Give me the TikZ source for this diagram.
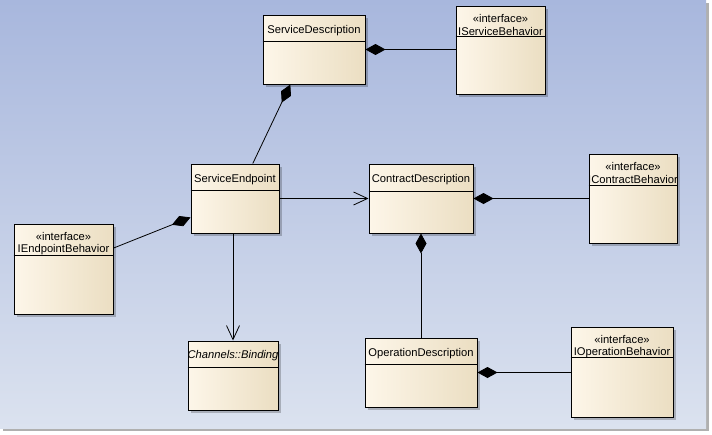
\documentclass[tikz,border=0pt]{standalone}
\usepackage{fontspec}
\setmainfont{Liberation Sans}
\usepackage{tikz}
\usetikzlibrary{arrows.meta,shadows,calc}
\definecolor{BgTop} {RGB}{168, 183, 221}
\definecolor{BgBot} {RGB}{219, 226, 239}
\definecolor{BoxL}  {RGB}{253, 246, 233}
\definecolor{BoxR}  {RGB}{235, 222, 194}
\definecolor{FrameG}{RGB}{176, 176, 176}
\tikzset{
  classbox/.style={draw,line width=1pt,left color=BoxL,right color=BoxR,inner sep=0pt,
    drop shadow={shadow xshift=3pt,shadow yshift=-3pt,fill=black,opacity=0.22}},
  cname/.style={font=\fontsize{11.2}{13}\selectfont,inner sep=0pt},
  comp/.style={line width=0.8pt,arrows={Diamond[length=20pt,width=11pt]-}},
  dep/.style={line width=0.8pt,arrows={-Straight Barb[length=14pt,width=13pt]}}
}

\begin{document}
\begin{tikzpicture}[x=1pt,y=-1pt]
  \useasboundingbox (0,0) rectangle (712,434);
  \fill[white] (0,0) rectangle (712,434);
  \fill[FrameG] (3,3) rectangle (709,431);
  \shade[top color=BgTop,bottom color=BgBot] (0,0) rectangle (706,428);

  % boxes: name/left/top/right/bottom/divider
  \foreach \n/\l/\t/\r/\b/\d in {sd/263/15/365/84/27, isb/456/6/545/94/31,
                                 se/191/164/279/233/27, cd/369/164/473/233/28,
                                 icb/589/154/677/243/32, ieb/14/224/113/314/32,
                                 bind/188/341/278/410/27, od/365/338/477/407/27,
                                 iob/571/327/673/417/31}{
    \node[classbox,minimum width={\r-\l},minimum height={\b-\t}] (\n)
      at ({(\l+\r)/2},{(\t+\b)/2}) {};
    \draw[line width=1pt] ($(\n.north west)+(0,\d)$) -- ($(\n.north east)+(0,\d)$);
  }

  \node[cname] (sd-t) at ($(sd.north)+(0,16)$) {ServiceDescription};
  \node[cname] (se-t) at ($(se.north)+(0,16)$) {ServiceEndpoint};
  \node[cname] (cd-t) at ($(cd.north)+(0,16)$) {ContractDescription};
  \node[cname] (od-t) at ($(od.north)+(0,16)$) {OperationDescription};
  \node[cname] (bind-t) at ($(bind.north)+(0,15)$) {\itshape Channels::Binding};
  \foreach \n/\txt in {isb/IServiceBehavior, icb/IContractBehavior,
                       ieb/IEndpointBehavior, iob/IOperationBehavior}{
    \node[cname] (\n-s) at ($(\n.north)+(0,13)$) {«interface»};
    \node[cname] (\n-t) at ($(\n.north)+(0,26)$) {\txt};
  }

  % associations
  \draw[comp] (sd.east) -- (sd.east -| isb.west);
  \draw[comp] ($(sd.south west)!0.27!(sd.south east)$) -- ($(se.north west)!0.7!(se.north east)$);
  \draw[comp] ($(se.north west)!0.77!(se.south west)$) -- ($(ieb.north east)!0.27!(ieb.south east)$);
  \draw[dep] (se.east) -- (cd.west);
  \draw[dep] (bind.north |- se.south) -- (bind.north);
  \draw[comp] (cd.east) -- (cd.east -| icb.west);
  \draw[comp] (cd.south) -- (od.north);
  \draw[comp] (od.east) -- (od.east -| iob.west);
\end{tikzpicture}
\end{document}
